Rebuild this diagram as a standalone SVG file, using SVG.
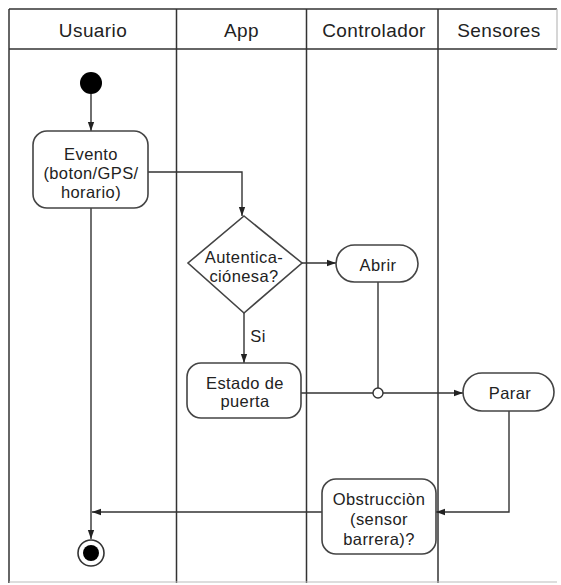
<svg xmlns="http://www.w3.org/2000/svg" width="561" height="585" viewBox="0 0 561 585">
<style>
  .lane { stroke: #333; stroke-width: 1.5; fill: none; }
  .faint { stroke: #bbb; stroke-width: 1.2; fill: none; }
  .hdr { font-family: "Liberation Sans", Arial, sans-serif; font-size: 19px; fill: #222; text-anchor: middle; letter-spacing: 0.4px; }
  .node { fill: #fff; stroke: #444; stroke-width: 1.6; }
  .txt { font-family: "Liberation Sans", Arial, sans-serif; font-size: 16.5px; fill: #222; text-anchor: middle; letter-spacing: 0.4px; }
  .conn { stroke: #333; stroke-width: 1.4; fill: none; }
</style>
<defs>
  <marker id="arr" viewBox="0 0 10 10" refX="10" refY="5" markerWidth="9" markerHeight="9" markerUnits="userSpaceOnUse" orient="auto">
    <path d="M0,1.5 L10,5 L0,8.5 z" fill="#222"/>
  </marker>
</defs>
<rect width="561" height="585" fill="#fff"/>
<g id="swimlanes">
  <line class="lane" x1="9" y1="9" x2="557" y2="9"/>
  <line class="lane" x1="9" y1="49" x2="557" y2="49"/>
  <line class="faint" x1="557" y1="9" x2="557" y2="49"/>
  <line class="lane" x1="9" y1="9" x2="9" y2="583"/>
  <line class="lane" x1="176.5" y1="9" x2="176.5" y2="583"/>
  <line class="lane" x1="306.5" y1="9" x2="306.5" y2="583"/>
  <line class="lane" x1="438" y1="9" x2="438" y2="583"/>
  <line class="faint" x1="9" y1="582" x2="557" y2="582"/>
  <text class="hdr" x="93" y="37">Usuario</text>
  <text class="hdr" x="241.5" y="37">App</text>
  <text class="hdr" x="374" y="37">Controlador</text>
  <text class="hdr" x="499" y="37">Sensores</text>
</g>
<g id="connectors">
  <line class="conn" x1="91" y1="94" x2="91" y2="131" marker-end="url(#arr)"/>
  <polyline class="conn" points="148,172 242,172 242,216" marker-end="url(#arr)"/>
  <line class="conn" x1="302" y1="263" x2="336" y2="263" marker-end="url(#arr)"/>
  <line class="conn" x1="244" y1="313" x2="244" y2="363" marker-end="url(#arr)"/>
  <text class="txt" x="258" y="342">Si</text>
  <line class="conn" x1="378" y1="282" x2="378" y2="388"/>
  <line class="conn" x1="301" y1="393" x2="463" y2="393" marker-end="url(#arr)"/>
  <circle cx="378" cy="393" r="5" fill="#fff" stroke="#333" stroke-width="1.4"/>
  <polyline class="conn" points="509,411 509,512 436,512" marker-end="url(#arr)"/>
  <line class="conn" x1="322" y1="512" x2="92" y2="512" marker-end="url(#arr)"/>
  <line class="conn" x1="91" y1="208" x2="91" y2="539" marker-end="url(#arr)"/>
</g>
<g id="start">
  <circle cx="91" cy="83" r="11" fill="#000"/>
</g>
<g id="evento">
  <rect class="node" x="33" y="131" width="115" height="77" rx="14"/>
  <text class="txt" x="91" y="160">Evento</text>
  <text class="txt" x="91" y="179">(boton/GPS/</text>
  <text class="txt" x="91" y="198">horario)</text>
</g>
<g id="autenticacion">
  <polygon class="node" points="244,216 302,263 244,313 188,263"/>
  <text class="txt" x="244" y="263">Autentica-</text>
  <text class="txt" x="244" y="282">ciónesa?</text>
</g>
<g id="abrir">
  <rect class="node" x="336" y="245" width="82" height="37" rx="18.5"/>
  <text class="txt" x="378" y="271">Abrir</text>
</g>
<g id="estado">
  <rect class="node" x="187" y="363" width="114" height="55" rx="14"/>
  <text class="txt" x="245" y="389">Estado de</text>
  <text class="txt" x="245" y="407">puerta</text>
</g>
<g id="parar">
  <rect class="node" x="463" y="373" width="91" height="38" rx="19"/>
  <text class="txt" x="510" y="399">Parar</text>
</g>
<g id="obstruccion">
  <rect class="node" x="322" y="479" width="114" height="75" rx="14"/>
  <text class="txt" x="379" y="505">Obstrucciòn</text>
  <text class="txt" x="379" y="525">(sensor</text>
  <text class="txt" x="379" y="545">barrera)?</text>
</g>
<g id="final">
  <circle cx="91" cy="553" r="13" fill="#fff" stroke="#333" stroke-width="1.6"/>
  <circle cx="91" cy="553" r="8" fill="#000"/>
</g>
</svg>
